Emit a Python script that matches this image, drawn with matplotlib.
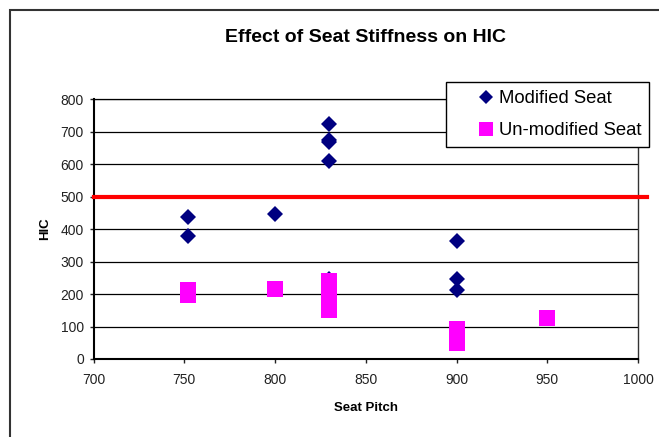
import matplotlib.pyplot as plt
import matplotlib.patches as patches

# donnees
mod_x = [752, 752, 800, 830, 830, 830, 830, 830, 900, 900, 900]
mod_y = [437, 378, 448, 724, 676, 667, 610, 245, 363, 245, 212]

unmod_x = [752, 752, 800, 830, 830, 830, 900, 900, 950]
unmod_y = [212, 196, 215, 240, 197, 152, 93, 50, 125]

limit_x = [700, 1005]
limit_y = [500, 500]

x_ticks = [700, 750, 800, 850, 900, 950, 1000]
y_ticks = [0, 100, 200, 300, 400, 500, 600, 700, 800]

plt.rcParams['font.family'] = ['Liberation Sans', 'DejaVu Sans']

W, H = 659, 437
fig = plt.figure(figsize=(W / 100, H / 100), dpi=100)
ax = fig.add_axes([93.5 / W, 1 - 359 / H, (638 - 93.5) / W, (359 - 99.3) / H])

# cadre exterieur (coupe a droite et en bas)
fig.patches.append(patches.Rectangle((9.5 / W, -0.2), 1.2, 1.2 - 10 / H,
                                     transform=fig.transFigure, fill=False,
                                     edgecolor='#333333', linewidth=1.5))

ax.set_xlim(700, 1000)
ax.set_ylim(0, 800)
ax.set_xticks(x_ticks)
ax.set_yticks(y_ticks)
ax.yaxis.grid(True, color='black', linewidth=0.9)
ax.set_axisbelow(True)

ax.plot(mod_x, mod_y, 'D', color='#000080', markersize=8, markeredgewidth=0,
        label='Modified Seat', zorder=3)
ax.plot(unmod_x, unmod_y, 's', color='#FF00FF', markersize=11.3, markeredgewidth=0,
        label='Un-modified Seat', zorder=4)
ax.plot(limit_x, limit_y, color='red', linewidth=3, clip_on=False, zorder=5)

for s in ['left', 'bottom']:
    ax.spines[s].set_linewidth(1.5)
ax.spines['right'].set_linewidth(1)
ax.spines['right'].set_color('#333333')
ax.spines['top'].set_linewidth(0.9)

ax.tick_params(direction='out', length=3, width=1, labelsize=10, colors='#222222')
ax.tick_params(axis='x', pad=7)
ax.tick_params(axis='y', pad=4)

ax.set_title('Effect of Seat Stiffness on HIC', fontsize=14, fontweight='bold',
             y=1 + (99.3 - 38) / 259.7, va='center', pad=0)
ax.set_xlabel('Seat Pitch', fontsize=9.5, fontweight='bold')
ax.set_ylabel('HIC', fontsize=9.5, fontweight='bold')
ax.xaxis.set_label_coords(0.5, (359 - 408) / 259.7)
ax.yaxis.set_label_coords((45 - 93.5) / 544.5, 0.5)
ax.xaxis.label.set_va('center')
ax.yaxis.label.set_va('center')

leg = ax.legend(loc='upper left', bbox_to_anchor=(446 / W, 1 - 82 / H),
                bbox_transform=fig.transFigure, borderaxespad=0, fontsize=13.3,
                frameon=True, fancybox=False, edgecolor='black', framealpha=1,
                borderpad=0.45, handlelength=3.4, handletextpad=-1.0,
                labelspacing=0.8)
leg.get_frame().set_linewidth(1)
leg.legend_handles[0].set_markersize(7.5)
leg.legend_handles[1].set_markersize(10)

plt.savefig('out.png', dpi=100)
